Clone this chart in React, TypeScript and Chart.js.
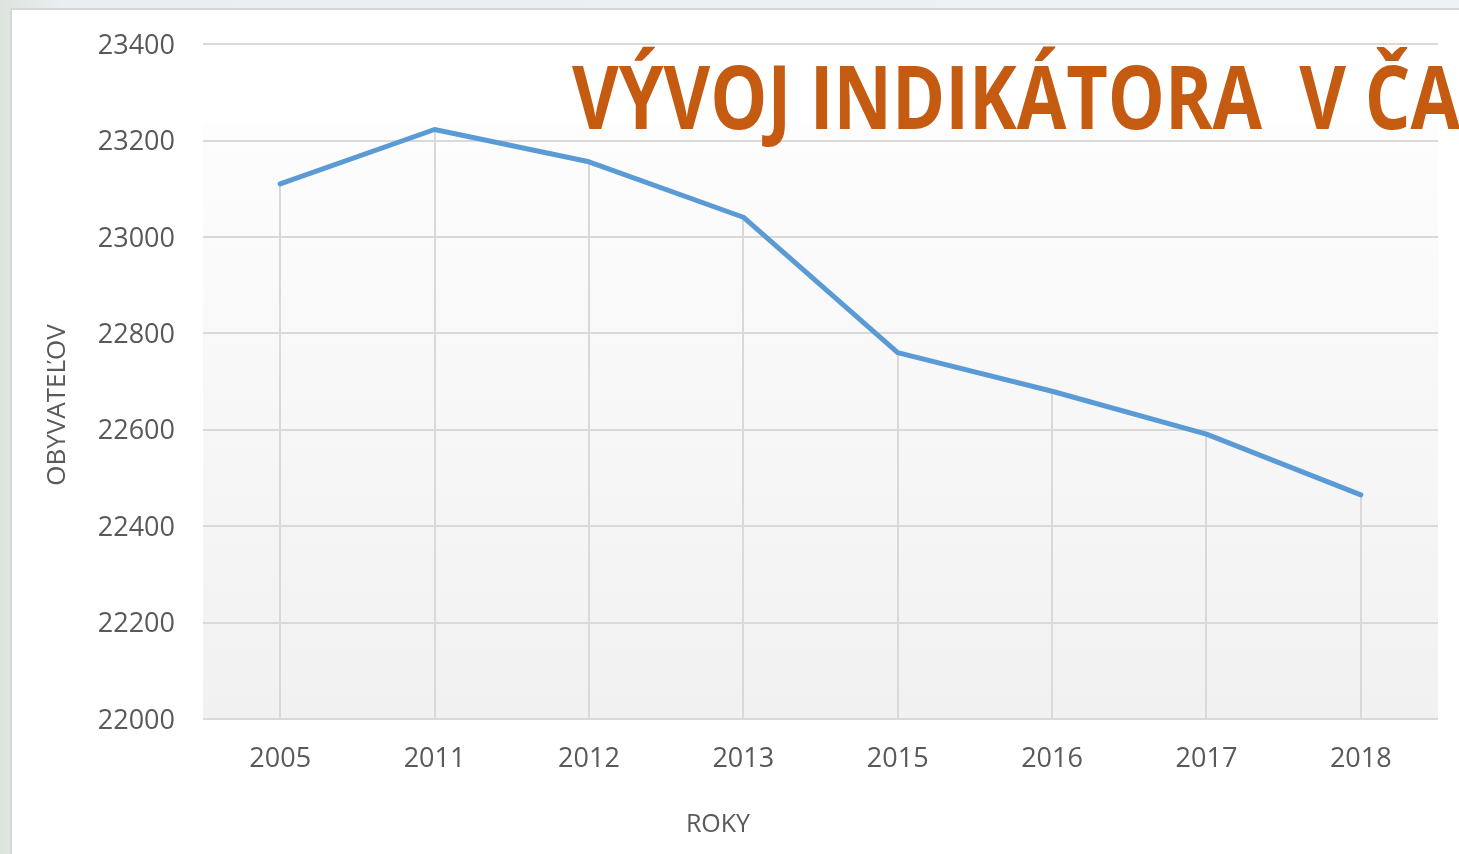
import React, { useEffect, useRef } from "react";
import { Chart, registerables } from "chart.js";

Chart.register(...registerables);

// ---- data ----
const years: string[] = ["2005", "2011", "2012", "2013", "2015", "2016", "2017", "2018"];
const population: number[] = [23110, 23223, 23156, 23041, 22760, 22680, 22591, 22465];
const yMin = 22000;
const yMax = 23400;
const yStep = 200;
const titleText = "VÝVOJ INDIKÁTORA  V ČASE";
const xTitle = "ROKY";
const yTitle = "OBYVATEĽOV";

const FONT = '"Open Sans", "Noto Sans", sans-serif';
const TEXT_COLOR = "#595959";
const GRID_COLOR = "#d9d9d9";
const LINE_COLOR = "#5b9bd5";
const TITLE_COLOR = "#c55a11";

const decorPlugin = {
  id: "decor",
  beforeDraw(chart: any) {
    const { ctx, chartArea } = chart;
    const { left, right, top, bottom } = chartArea;
    const gTop = top + (bottom - top) * 0.117;
    const g = ctx.createLinearGradient(0, gTop, 0, bottom);
    g.addColorStop(0, "#fdfdfd");
    g.addColorStop(1, "#f1f1f1");
    ctx.save();
    ctx.fillStyle = g;
    ctx.fillRect(left, gTop, right - left, bottom - gTop);
    ctx.restore();
  },
  beforeDatasetsDraw(chart: any) {
    const { ctx, chartArea } = chart;
    const meta = chart.getDatasetMeta(0);
    ctx.save();
    ctx.strokeStyle = GRID_COLOR;
    ctx.lineWidth = 2;
    meta.data.forEach((pt: any) => {
      ctx.beginPath();
      ctx.moveTo(Math.round(pt.x), pt.y);
      ctx.lineTo(Math.round(pt.x), chartArea.bottom);
      ctx.stroke();
    });
    ctx.restore();
  },
  afterDraw(chart: any) {
    const { ctx } = chart;
    ctx.save();
    // axis titles
    ctx.fillStyle = TEXT_COLOR;
    ctx.font = `25px ${FONT}`;
    ctx.textAlign = "center";
    ctx.textBaseline = "middle";
    ctx.fillText(xTitle, 718, 825);
    ctx.save();
    ctx.font = `26px ${FONT}`;
    ctx.translate(58, 405);
    ctx.rotate(-Math.PI / 2);
    ctx.fillText(yTitle, 0, 0);
    ctx.restore();
    // slide title overlay
    ctx.font = `bold 88px ${FONT}`;
    ctx.fillStyle = TITLE_COLOR;
    ctx.textAlign = "left";
    ctx.textBaseline = "alphabetic";
    const w = ctx.measureText("VÝVOJ INDIKÁTORA").width;
    const sx = 690 / w;
    ctx.translate(572, 129);
    ctx.scale(sx, 1);
    ctx.fillText(titleText, 0, 0);
    ctx.restore();
  },
};

export default function App() {
  const canvasRef = useRef<HTMLCanvasElement | null>(null);

  useEffect(() => {
    document.body.style.margin = "0";
    const canvas = canvasRef.current;
    if (!canvas) return;
    const chart = new Chart(canvas, {
      type: "line",
      data: {
        labels: years,
        datasets: [
          {
            label: yTitle,
            data: population,
            borderColor: LINE_COLOR,
            borderWidth: 5,
            pointRadius: 0,
            pointHoverRadius: 0,
            tension: 0,
            fill: false,
            borderCapStyle: "round",
            borderJoinStyle: "round",
          },
        ],
      },
      options: {
        animation: false,
        responsive: false,
        maintainAspectRatio: false,
        layout: { padding: { left: 0, right: 21, top: 44, bottom: 0 } },
        plugins: {
          legend: { display: false },
          title: { display: false },
          tooltip: { enabled: false },
        },
        scales: {
          x: {
            offset: true,
            grid: { display: false, drawTicks: false },
            border: { display: false },
            ticks: {
              color: TEXT_COLOR,
              font: { family: FONT, size: 27 },
              padding: 24,
              maxRotation: 0,
              autoSkip: false,
            },
            afterFit(scale: any) {
              scale.height = 135;
            },
          },
          y: {
            min: yMin,
            max: yMax,
            grid: { color: GRID_COLOR, lineWidth: 2, drawTicks: false },
            border: { display: false },
            ticks: {
              stepSize: yStep,
              color: TEXT_COLOR,
              font: { family: FONT, size: 27 },
              padding: 28,
              labelOffset: 2,
              callback: (v: any) => String(v),
            },
            afterFit(scale: any) {
              scale.width = 203;
            },
          },
        },
      },
      plugins: [decorPlugin],
    });
    return () => chart.destroy();
  }, []);

  return (
    <div
      style={{
        position: "fixed",
        left: 0,
        top: 0,
        width: 1459,
        height: 854,
        overflow: "hidden",
        background: "linear-gradient(90deg, #dde3dd 0px, #e9eef0 60px, #eef2f4 100%)",
      }}
    >
      <div
        style={{
          position: "absolute",
          left: 10,
          top: 8,
          width: 1459,
          height: 854,
          background: "#ffffff",
          borderLeft: "2px solid #d6d6d6",
          borderTop: "2px solid #d6d6d6",
        }}
      />
      <canvas
        ref={canvasRef}
        width={1459}
        height={854}
        style={{ position: "absolute", left: 0, top: 0, width: 1459, height: 854 }}
      />
    </div>
  );
}
